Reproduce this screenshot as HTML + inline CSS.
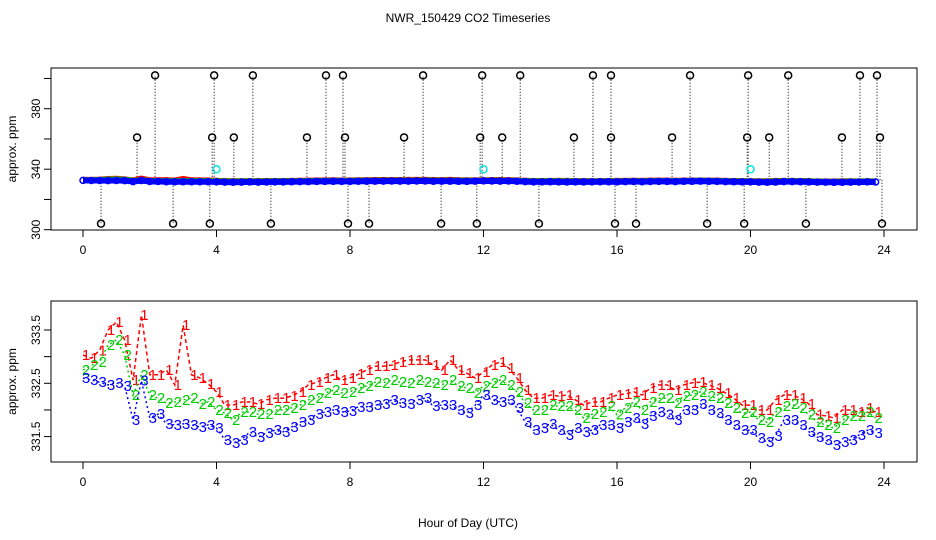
<!DOCTYPE html>
<html><head><meta charset="utf-8"><style>
html,body{margin:0;padding:0;background:#fff;}
svg{display:block;font-family:"Liberation Sans",Helvetica,sans-serif;}
</style></head><body>
<svg id="chart" width="936" height="540" viewBox="0 0 936 540"></svg>
<script>
const hours = [];
const series1 = [333.03,332.97,333.12,333.50,333.65,333.31,332.56,333.78,332.66,332.66,332.75,332.47,333.59,332.66,332.60,332.49,332.34,332.09,332.09,332.15,332.15,332.11,332.19,332.22,332.22,332.26,332.34,332.47,332.52,332.60,332.66,332.56,332.60,332.67,332.75,332.82,332.82,332.84,332.90,332.94,332.94,332.94,332.84,332.75,332.94,332.75,332.69,332.60,332.71,332.84,332.90,332.79,332.60,332.37,332.22,332.22,332.28,332.26,332.28,332.19,332.09,332.15,332.15,332.22,332.28,332.30,332.34,332.28,332.41,332.47,332.47,332.37,332.47,332.51,332.52,332.47,332.41,332.32,332.22,332.09,332.09,332.00,332.00,332.19,332.28,332.28,332.22,332.11,331.91,331.89,331.85,332.00,332.00,331.96,332.04,331.96];
const series2 = [332.75,332.84,332.90,333.22,333.31,333.03,332.28,332.66,332.28,332.22,332.13,332.15,332.19,332.22,332.11,332.15,332.00,331.94,331.81,331.96,331.96,331.92,331.92,332.00,332.00,332.04,332.09,332.19,332.22,332.32,332.37,332.32,332.34,332.41,332.45,332.52,332.51,332.56,332.52,332.51,332.56,332.52,332.51,332.47,332.56,332.45,332.41,332.32,332.45,332.51,332.56,332.47,332.34,332.13,332.00,332.00,332.09,332.07,332.07,332.00,331.85,331.92,331.96,332.07,331.91,332.04,332.15,332.00,332.15,332.22,332.22,332.13,332.26,332.28,332.34,332.26,332.22,332.13,332.04,331.94,331.96,331.81,331.77,331.96,332.07,332.11,332.04,331.91,331.77,331.72,331.66,331.81,331.89,331.89,331.96,331.85];
const series3 = [332.60,332.56,332.52,332.47,332.51,332.45,331.81,332.55,331.85,331.92,331.74,331.72,331.74,331.72,331.68,331.72,331.66,331.44,331.38,331.44,331.59,331.49,331.57,331.62,331.59,331.68,331.77,331.81,331.92,331.96,332.00,331.96,331.98,332.06,332.06,332.09,332.11,332.19,332.13,332.11,332.19,332.22,332.07,332.09,332.09,332.00,331.94,332.09,332.28,332.19,332.15,332.19,332.04,331.77,331.62,331.66,331.74,331.62,331.53,331.66,331.59,331.62,331.72,331.72,331.66,331.77,331.85,331.74,331.89,331.96,331.91,331.81,332.00,332.00,332.11,332.00,331.94,331.81,331.72,331.62,331.62,331.47,331.40,331.51,331.81,331.81,331.72,331.59,331.49,331.44,331.34,331.40,331.44,331.53,331.62,331.57];
for (let i = 0; i < series3.length; i++) hours.push(i * 0.25);
const outlierHours = [2.16,3.93,5.09,7.28,7.79,10.19,11.96,13.1,15.28,15.82,18.19,19.93,21.13,23.28,23.79,1.62,3.87,4.52,6.71,7.85,9.62,11.9,12.56,14.71,15.82,17.65,19.9,20.56,22.74,23.88,0.54,2.7,3.8,5.63,7.94,8.57,10.73,11.8,13.66,15.94,16.57,18.7,19.81,21.66,23.94];
const outlierVals = [402,402,402,402,402,402,402,402,402,402,402,402,402,402,402,361,361,361,361,361,361,361,361,361,361,361,361,361,361,361,304,304,304,304,304,304,304,304,304,304,304,304,304,304,304];
const cyanHours = [4.0,12.0,20.0];
const cyanVals = [340,340,340];
const xTicks = [0,4,8,12,16,20,24];
const topYTicks = [300,320,340,360,380,400];
const topYLabels = ["300","","340","","380",""];
const botYTicks = [331.5,332,332.5,333,333.5];
const botYLabels = ["331.5","","332.5","","333.5"];

const NS = "http://www.w3.org/2000/svg";
const svg = document.getElementById("chart");
function mk(tag, attrs, parent) {
  const e = document.createElementNS(NS, tag);
  for (const k in attrs) e.setAttribute(k, attrs[k]);
  (parent || svg).appendChild(e);
  return e;
}
const X = h => 83 + h * 33.375;
const Yt = v => 229.7 - (v - 300) * 1.5125;
const Yb = v => 383.3 - (v - 332.5) * 53.3;

let t = mk("text", {x: 468, y: 22, "text-anchor": "middle", "font-size": 12});
t.textContent = "NWR_150429  CO2 Timeseries";


t = mk("text", {x: 468, y: 527, "text-anchor": "middle", "font-size": 12});
t.textContent = "Hour of Day (UTC)";



function panel(top, bottom, Y, yTicks, yLabels, name) {
  const g = mk("g", {});
  
  
  mk("rect", {x: 51, y: top, width: 866, height: bottom - top, fill: "none", stroke: "#000", "stroke-width": 1}, g);
  xTicks.forEach(h => {
    mk("line", {x1: X(h), x2: X(h), y1: bottom, y2: bottom + 7, stroke: "#000"}, g);
    const l = mk("text", {x: X(h), y: bottom + 24, "text-anchor": "middle", "font-size": 12}, g);
    l.textContent = h;
    
    
  });
  yTicks.forEach((v, i) => {
    mk("line", {x1: 44, x2: 51, y1: Y(v), y2: Y(v), stroke: "#000"}, g);
    if (yLabels[i]) {
      const l = mk("text", {x: 0, y: 0, "text-anchor": "middle", "font-size": 12, transform: `translate(40,${Y(v)}) rotate(-90)`}, g);
      l.textContent = yLabels[i];
      
      
    }
  });
  const yl = mk("text", {x: 0, y: 0, "text-anchor": "middle", "font-size": 12, transform: `translate(16,${(top + bottom) / 2}) rotate(-90)`}, g);
  yl.textContent = "approx. ppm";
  
  
  return g;
}
panel(68, 230, Yt, topYTicks, topYLabels, "top-panel");
panel(301, 462, Yb, botYTicks, botYLabels, "bottom-panel");

outlierHours.forEach((h, i) => {
  mk("line", {x1: X(h), x2: X(h), y1: Yt(333), y2: Yt(outlierVals[i]), stroke: "#000", "stroke-dasharray": "1,2"});
});
const cols = ["#ff0000", "#00cc00", "#0000ff"];
const allS = [series1, series2, series3];
allS.forEach((s, k) => {
  const pts = s.map((v, i) => X(hours[i]) + "," + Yt(v)).join(" ");
  const pl = mk("polyline", {points: pts, fill: "none", stroke: cols[k], "stroke-width": 6});
  
  
});
series3.forEach((v, i) => {
  const c = mk("circle", {cx: X(hours[i]), cy: Yt(v), r: 3, fill: "none", stroke: "#0000ff", "stroke-width": 1.5});
  
  
});
outlierHours.forEach((h, i) => {
  const c = mk("circle", {cx: X(h), cy: Yt(outlierVals[i]), r: 3.5, fill: "none", stroke: "#000", "stroke-width": 1.5});
  
  
});
cyanHours.forEach((h, i) => {
  const c = mk("circle", {cx: X(h), cy: Yt(cyanVals[i]), r: 3.5, fill: "none", stroke: "#00e5e5", "stroke-width": 1.5});
  
  
});

["1", "2", "3"].forEach((ch, k) => {
  const s = allS[k];
  const pts = s.map((v, i) => X(hours[i]) + "," + Yb(v)).join(" ");
  const pl = mk("polyline", {points: pts, fill: "none", stroke: cols[k], "stroke-width": 1.5, "stroke-dasharray": k === 0 ? "4,3" : "2,3"});
  
  
  s.forEach((v, i) => {
    const tx = mk("text", {x: X(hours[i]) + 3, y: Yb(v) + 5, "text-anchor": "middle", "font-size": 15, fill: cols[k]});
    tx.textContent = ch;
    
    
  });
});
</script>
</body></html>
